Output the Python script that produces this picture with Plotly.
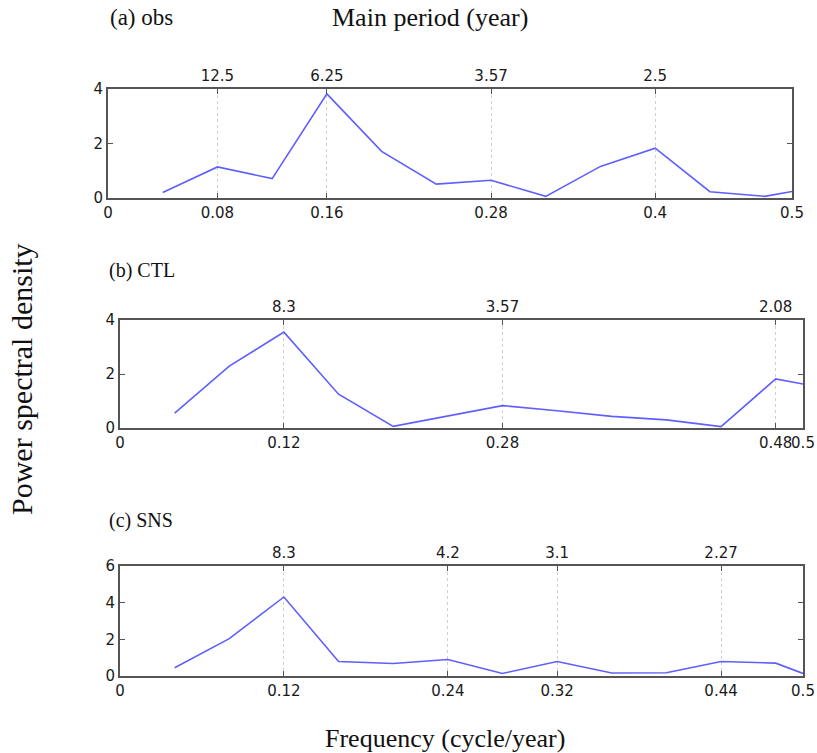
import plotly.graph_objects as go

# ---------------- data ----------------
freq = [0.04, 0.08, 0.12, 0.16, 0.20, 0.24, 0.28, 0.32, 0.36, 0.40, 0.44, 0.48, 0.50]
obs_psd = [0.20, 1.14, 0.71, 3.82, 1.71, 0.51, 0.65, 0.06, 1.16, 1.83, 0.23, 0.06, 0.24]
ctl_psd = [0.55, 2.29, 3.55, 1.25, 0.06, 0.45, 0.83, 0.64, 0.43, 0.30, 0.05, 1.82, 1.63]
sns_psd = [0.45, 2.04, 4.31, 0.79, 0.68, 0.90, 0.14, 0.79, 0.16, 0.18, 0.79, 0.70, 0.14]

obs_bottom_ticks = [0, 0.08, 0.16, 0.28, 0.4, 0.5]
obs_bottom_text = ["0", "0.08", "0.16", "0.28", "0.4", "0.5"]
obs_top_ticks = [0.08, 0.16, 0.28, 0.4]
obs_top_text = ["12.5", "6.25", "3.57", "2.5"]

ctl_bottom_ticks = [0, 0.12, 0.28, 0.48, 0.5]
ctl_bottom_text = ["0", "0.12", "0.28", "0.48", "0.5"]
ctl_top_ticks = [0.12, 0.28, 0.48]
ctl_top_text = ["8.3", "3.57", "2.08"]

sns_bottom_ticks = [0, 0.12, 0.24, 0.32, 0.44, 0.5]
sns_bottom_text = ["0", "0.12", "0.24", "0.32", "0.44", "0.5"]
sns_top_ticks = [0.12, 0.24, 0.32, 0.44]
sns_top_text = ["8.3", "4.2", "3.1", "2.27"]

y_ranges = [[0, 4], [0, 4], [0, 6]]
y_ticks = [[0, 2, 4], [0, 2, 4], [0, 2, 4, 6]]

# ---------------- layout helpers ----------------
W, H = 817, 753
def px(x):
    return x / W
def py(y):
    return 1 - y / H

# pixel boxes in the page (left, right, top, bottom)
boxes = [(108, 792, 89, 198), (120, 803, 320, 428), (120, 803, 566, 676)]

LINE_COL = "#5f5fff"
AX_COL = "#555555"
TICK_FONT = dict(family="DejaVu Sans", size=15, color="#1a1a1a")
SERIF = "Liberation Serif, Times New Roman, serif"

fig = go.Figure()
series = [obs_psd, ctl_psd, sns_psd]
bottoms = [(obs_bottom_ticks, obs_bottom_text), (ctl_bottom_ticks, ctl_bottom_text),
           (sns_bottom_ticks, sns_bottom_text)]
tops = [(obs_top_ticks, obs_top_text), (ctl_top_ticks, ctl_top_text),
        (sns_top_ticks, sns_top_text)]

layout = dict(
    width=W, height=H, margin=dict(l=0, r=0, t=0, b=0, autoexpand=False),
    paper_bgcolor="white", plot_bgcolor="white", showlegend=False,
)

for i in range(3):
    xb = 2 * i + 1
    xt = 2 * i + 2
    yi = i + 1
    xb_name = "x" if xb == 1 else f"x{xb}"
    xt_name = f"x{xt}"
    y_name = "y" if yi == 1 else f"y{yi}"
    l, r, t, b = boxes[i]
    dom_x = [px(l), px(r)]
    dom_y = [py(b), py(t)]

    fig.add_trace(go.Scatter(x=freq, y=series[i], mode="lines", xaxis=xb_name, yaxis=y_name,
                             line=dict(color=LINE_COL, width=1.6), hoverinfo="skip"))
    fig.add_trace(go.Scatter(x=freq, y=series[i], mode="lines", xaxis=xt_name, yaxis=y_name,
                             line=dict(color="rgba(0,0,0,0)", width=0), hoverinfo="skip"))

    layout[f"xaxis{'' if xb == 1 else xb}"] = dict(
        domain=dom_x, anchor=y_name, range=[0, 0.5], side="bottom",
        tickmode="array", tickvals=bottoms[i][0], ticktext=bottoms[i][1],
        ticks="inside", ticklen=5, tickwidth=1, tickcolor=AX_COL,
        showline=True, linecolor=AX_COL, linewidth=2, showgrid=False, zeroline=False,
        tickfont=TICK_FONT, tickangle=0, fixedrange=True, automargin=False,
    )
    layout[f"xaxis{xt}"] = dict(
        domain=dom_x, anchor=y_name, overlaying=xb_name, range=[0, 0.5], side="top",
        tickmode="array", tickvals=tops[i][0], ticktext=tops[i][1],
        ticks="inside", ticklen=5, tickwidth=1, tickcolor=AX_COL,
        showline=True, linecolor=AX_COL, linewidth=2,
        showgrid=True, gridcolor="#cfcfcf", griddash="dot", gridwidth=1, zeroline=False,
        tickfont=TICK_FONT, tickangle=0, fixedrange=True, automargin=False,
    )
    layout[f"yaxis{'' if yi == 1 else yi}"] = dict(
        domain=dom_y, anchor=xb_name, range=y_ranges[i],
        tickmode="array", tickvals=y_ticks[i],
        ticks="inside", ticklen=5, tickwidth=1, tickcolor=AX_COL,
        showline=True, linecolor=AX_COL, linewidth=2, mirror="ticks",
        showgrid=False, zeroline=False, tickfont=TICK_FONT, fixedrange=True, automargin=False,
    )

anns = [
    dict(text="(a) obs", x=px(108), y=py(18), xanchor="left", size=23),
    dict(text="Main period (year)", x=px(430), y=py(18), xanchor="center", size=26),
    dict(text="(b) CTL", x=px(107), y=py(270), xanchor="left", size=20),
    dict(text="(c) SNS", x=px(107), y=py(520), xanchor="left", size=20),
    dict(text="Frequency (cycle/year)", x=px(445), y=py(738), xanchor="center", size=26),
]
annotations = []
for a in anns:
    annotations.append(dict(text=a["text"], x=a["x"], y=a["y"], xref="paper", yref="paper",
                            xanchor=a["xanchor"], yanchor="middle", showarrow=False,
                            font=dict(family=SERIF, size=a["size"], color="#111111")))
annotations.append(dict(text="Power spectral density", x=px(21), y=py(379), xref="paper",
                        yref="paper", xanchor="center", yanchor="middle", showarrow=False,
                        textangle=-90, font=dict(family=SERIF, size=30, color="#111111")))
layout["annotations"] = annotations

fig.update_layout(**layout)
fig.write_html("out.html",
               config={"displayModeBar": False, "staticPlot": True},
               post_script="document.body.style.margin='0px';document.body.style.overflow='hidden';")
